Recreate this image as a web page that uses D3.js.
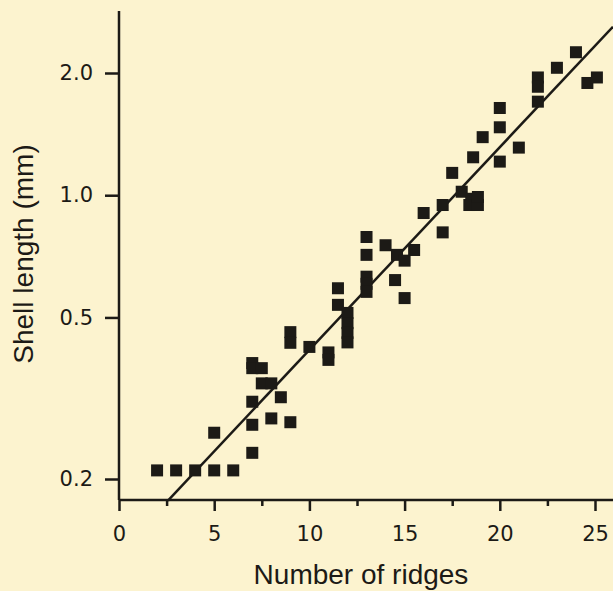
<!DOCTYPE html>
<html>
<head>
<meta charset="utf-8">
<script src="https://cdn.jsdelivr.net/npm/d3@7"></script>
<style>
  body { margin: 0; background: #fcf3cf; }
  svg { display: block; font-family: "Liberation Sans", Arial, Helvetica, sans-serif; }
</style>
</head>
<body>
<svg id="chart" width="613" height="591"></svg>
<script>
// number of ridges vs shell length (mm)
var ridges = [2, 3, 4, 5, 6,
  5, 7, 7, 7, 7,
  7, 7.5, 7.5, 8, 8.5, 8, 9,
  9, 9, 10, 11, 11,
  11.5, 11.5, 12, 12, 12, 12,
  13, 13, 13, 13, 13,
  14, 14.6, 15, 15.5, 14.5, 15,
  16, 17, 17, 17.5, 18, 18.5, 18.4, 18.85, 18.85,
  18.6, 19.1, 20, 20, 20, 21,
  22, 22, 22, 23, 24, 24.6, 25.1];
var lengths = [0.21, 0.21, 0.21, 0.21, 0.21,
  0.26, 0.232, 0.272, 0.31, 0.386,
  0.375, 0.375, 0.344, 0.344, 0.318, 0.282, 0.276,
  0.46, 0.433, 0.423, 0.41, 0.393,
  0.59, 0.537, 0.513, 0.484, 0.458, 0.434,
  0.789, 0.713, 0.63, 0.605, 0.578,
  0.753, 0.713, 0.69, 0.733, 0.618, 0.558,
  0.904, 0.81, 0.946, 1.135, 1.02, 0.98, 0.946, 0.946, 0.99,
  1.24, 1.39, 1.47, 1.64, 1.21, 1.31,
  1.70, 1.95, 1.85, 2.06, 2.25, 1.89, 1.95];

// fitted regression line, two ends
var fitX = [2.57, 25.94];
var fitY = [0.177, 2.6];

var xTicks = [0, 5, 10, 15, 20, 25];
var xMinor = [2.5, 7.5, 12.5, 17.5, 22.5];
var yTicks = [0.2, 0.5, 1.0, 2.0];
var yTickLabels = ["0.2", "0.5", "1.0", "2.0"];

var ink = "#1c1a16";
var svg = d3.select("#chart");

var x = d3.scaleLinear().domain([0, 25]).range([119, 595]);
var y = d3.scaleLog().domain([0.2, 2]).range([479, 73]);
var axisY = 500;

// axis lines
svg.append("line")
  .attr("x1", x(0)).attr("x2", 613)
  .attr("y1", axisY).attr("y2", axisY)
  .attr("stroke", ink).attr("stroke-width", 2.5);
svg.append("line")
  .attr("x1", x(0)).attr("x2", x(0))
  .attr("y1", 11).attr("y2", axisY)
  .attr("stroke", ink).attr("stroke-width", 2.5);

// x axis, major + minor ticks
var gx = svg.append("g").attr("transform", "translate(0," + axisY + ")")
  .call(d3.axisBottom(x).tickValues(xTicks).tickSize(11).tickPadding(15));
var gxm = svg.append("g").attr("transform", "translate(0," + axisY + ")")
  .call(d3.axisBottom(x).tickValues(xMinor).tickSize(6).tickFormat(""));

// y axis
var gy = svg.append("g").attr("transform", "translate(" + x(0) + ",0)")
  .call(d3.axisLeft(y).tickValues(yTicks)
    .tickFormat(function(d, i) { return yTickLabels[i]; })
    .tickSize(14).tickPadding(12));

[gx, gxm, gy].forEach(function(g) {
  g.select(".domain").remove();
  g.selectAll("line").attr("stroke", ink).attr("stroke-width", 2.5);
  g.selectAll("text")
    .attr("fill", ink)
    .style("font-family", "'DejaVu Sans', sans-serif")
    .style("font-size", "21px");
});

// regression line
svg.append("line")
  .attr("x1", x(fitX[0])).attr("y1", y(fitY[0]))
  .attr("x2", x(fitX[1])).attr("y2", y(fitY[1]))
  .attr("stroke", ink).attr("stroke-width", 2.5);

// points
var sz = 12;
svg.append("g").selectAll("rect")
  .data(d3.range(ridges.length))
  .enter().append("rect")
  .attr("x", function(i) { return x(ridges[i]) - sz / 2; })
  .attr("y", function(i) { return y(lengths[i]) - sz / 2; })
  .attr("width", sz).attr("height", sz)
  .attr("fill", ink);

// titles
svg.append("text")
  .attr("x", 361).attr("y", 584)
  .attr("text-anchor", "middle")
  .attr("fill", ink)
  .style("font-size", "28px")
  .text("Number of ridges");

svg.append("text")
  .attr("transform", "translate(33,254) rotate(-90)")
  .attr("text-anchor", "middle")
  .attr("fill", ink)
  .style("font-size", "28px")
  .text("Shell length (mm)");
</script>
</body>
</html>
